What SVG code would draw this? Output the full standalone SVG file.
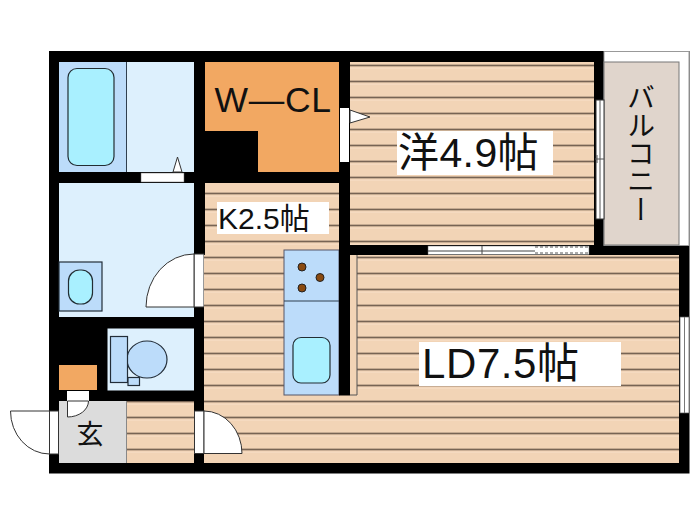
<svg xmlns="http://www.w3.org/2000/svg" width="700" height="525" viewBox="0 0 700 525">
<style>
.ol{stroke:#333;stroke-width:1}
.blue{fill:#bcdcfa;stroke:#222d38;stroke-width:1.2}
.pale{fill:#ddf0fd}
.aqua{fill:#a9f0ff;stroke:#222d33;stroke-width:1.2}
.door{fill:#fff;stroke:#333;stroke-width:1}
.t{font-family:"Liberation Sans","Noto Sans CJK JP",sans-serif;fill:#111}
.j{font-family:"Noto Sans CJK JP","Liberation Sans",sans-serif;fill:#111}
.burner{fill:#8a4a10;stroke:#222;stroke-width:1}
</style>
<defs>
<pattern id="floor" patternUnits="userSpaceOnUse" width="16" height="16" y="0.7">
<rect width="16" height="16" fill="#f2d4b6"/>
<rect y="3" width="16" height="1" fill="#f6dcc4"/>
<rect y="0" width="16" height="1.4" fill="#5c4c3e"/>
</pattern>
</defs>
<rect width="700" height="525" fill="#fff"/>
<rect x="49" y="51" width="640.500" height="422.500" fill="#000"/>
<g id="balcony">
<rect x="604" y="51.500" width="85" height="194" fill="#fff" stroke="#999"/>
<rect x="604" y="62" width="75" height="183" fill="#e0d5cc" stroke="#777"/>
<text x="641" y="83" class="j" font-size="28" style="writing-mode:vertical-rl" text-anchor="start">バルコニー</text>
</g>
<g id="bathroom">
<rect x="59" y="62" width="67" height="110" fill="#bcdcfa"/>
<rect x="127" y="62" width="67" height="110" class="pale"/>
<line x1="126.500" y1="62" x2="126.500" y2="172" stroke="#2f3f4f"/>
<rect x="68" y="68.500" width="46" height="97" rx="9" class="aqua"/>
<rect x="141" y="173" width="43" height="9" fill="#fff" stroke="#666" stroke-width=".5"/>
<path d="M173 172L177.500 157L182 172Z" class="door"/>
</g>
<g id="washroom">
<rect x="59" y="183" width="135" height="134" class="pale"/>
<rect x="59" y="262" width="43" height="49" class="blue"/>
<rect x="68.500" y="270" width="24" height="34" rx="11" class="aqua"/>
<rect x="194" y="254" width="10" height="53" class="door"/>
<path d="M194 254A48 53 0 0 0 146 307H194Z" class="door"/>
</g>
<g id="toilet">
<rect x="107.500" y="328.500" width="86.500" height="62" class="pale"/>
<ellipse cx="147" cy="359.500" rx="20" ry="18.500" class="blue"/>
<rect x="110.500" y="336.500" width="17" height="46" class="blue"/>
<rect x="128" y="377.500" width="11.500" height="8" class="blue"/>
</g>
<g id="cupboard">
<rect x="59" y="365" width="38" height="25" fill="#f2a862"/>
<rect x="67" y="391" width="22" height="10" fill="#fff"/>
</g>
<g id="floors">
<rect x="127" y="401" width="67" height="62" fill="url(#floor)"/>
<rect x="205" y="183" width="134" height="72" fill="url(#floor)"/>
<rect x="204" y="255" width="475" height="208" fill="url(#floor)"/>
<rect x="350" y="62" width="244" height="183" fill="url(#floor)"/>
<rect x="194" y="401" width="10" height="10" fill="#000"/>
</g>
<g id="entrance">
<rect x="59" y="401" width="67" height="62" fill="#dcdcdc"/>
<line x1="126.500" y1="401" x2="126.500" y2="463" stroke="#888"/>
<path d="M67.500 401H88.500A21 16 0 0 1 67.500 417Z" class="door"/>
<text x="90" y="444" class="j" font-size="27" text-anchor="middle">玄</text>
<rect x="49.500" y="411" width="9" height="43" class="door"/>
<path d="M49.500 411H10.500A39 43 0 0 0 49.500 454Z" class="door"/>
<rect x="194.500" y="411" width="9.500" height="42.500" class="door"/>
<path d="M204 411A38 42.500 0 0 1 242 453.500H204Z" class="door"/>
</g>
<g id="wcl">
<rect x="205" y="62" width="134" height="110" fill="#f2a862"/>
<rect x="205" y="131" width="53" height="41" fill="#000"/>
<text x="214.500" y="112" class="t" font-size="35.500" letter-spacing=".7">W—CL</text>
<rect x="340" y="108" width="9" height="54" fill="#fff"/>
<path d="M350 110L370 117L350 123Z" class="door"/>
</g>
<g id="western">
<rect x="397" y="131" width="156" height="44" fill="#fff"/>
<text x="398" y="167" class="t" font-size="41" letter-spacing=".4">洋4.9帖</text>
<rect x="596" y="100" width="8" height="119" class="door"/>
<path d="M600 100V219M595 159H604M597 155V163" fill="none" stroke="#555"/>
<rect x="428" y="246" width="161" height="8.500" fill="#fff" stroke="#666" stroke-width=".5"/>
<path d="M428 251H535M482 246V254" stroke="#444" stroke-width="1" fill="none"/>
<path d="M535 247H589M535 253H589" stroke="#555" stroke-dasharray="3 2" fill="none"/>
</g>
<g id="kitchen">
<rect x="217" y="202" width="112" height="32" fill="#fff"/>
<text x="218" y="229" class="t" font-size="30">K2.5帖</text>
<rect x="284" y="250" width="55" height="145" fill="#bcdcfa" stroke="#556"/>
<line x1="284" y1="301" x2="339" y2="301" stroke="#2f3f4f" stroke-width="1"/>
<circle cx="302" cy="267" r="4" class="burner"/>
<circle cx="320" cy="277.500" r="4" class="burner"/>
<circle cx="302" cy="288" r="4" class="burner"/>
<rect x="293" y="337.500" width="37" height="45.500" rx="8" class="aqua"/>
<rect x="339" y="240" width="11" height="155.500" fill="#000"/>
<rect x="350" y="255" width="7" height="140" fill="#f2d4b6"/>
<path d="M357 255V395H350" fill="none" stroke="#555"/>
</g>
<g id="living">
<rect x="419" y="342" width="202" height="44" fill="#fff"/>
<text x="422" y="378" class="t" font-size="42" letter-spacing=".6">LD7.5帖</text>
<rect x="680" y="317" width="9" height="96" fill="#fff" stroke="#555" stroke-width=".7"/>
<line x1="684.500" y1="317" x2="684.500" y2="413" stroke="#777"/>
</g>
</svg>
